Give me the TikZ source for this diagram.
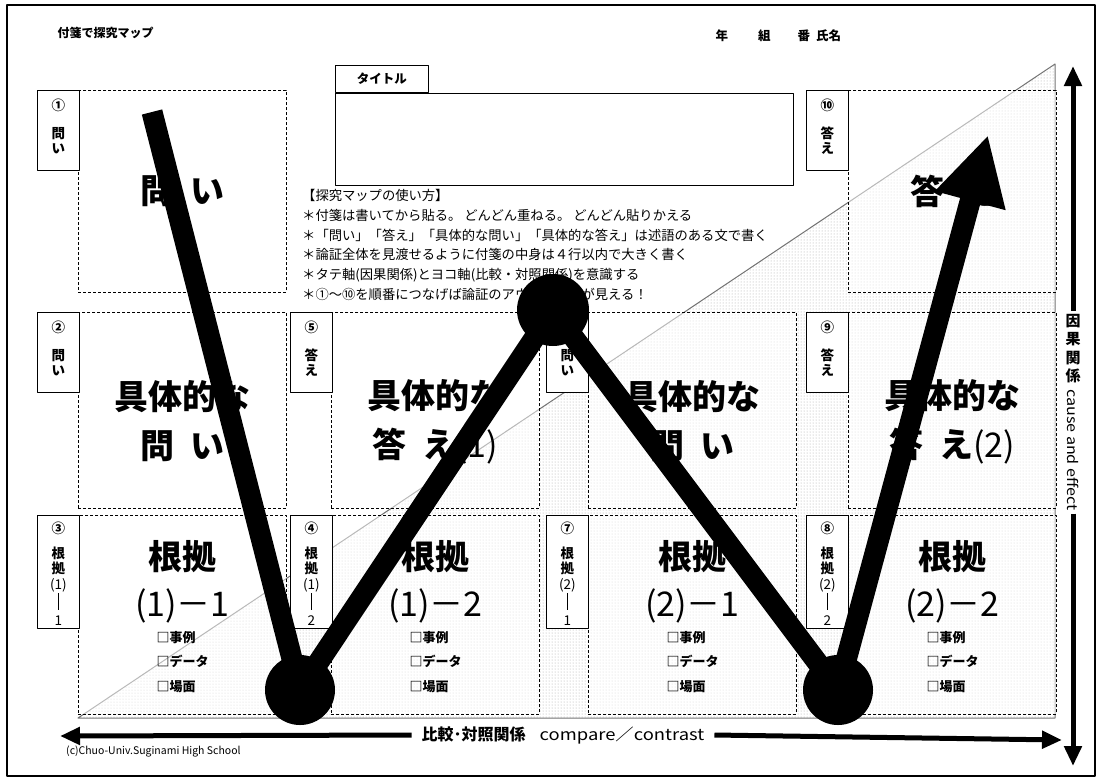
\documentclass[tikz,border=0pt]{standalone}
\usepackage{fontspec}
\setmainfont{Noto Sans CJK JP}
\usetikzlibrary{arrows.meta, patterns, calc, positioning}

\begin{document}
\begin{tikzpicture}[x=1pt, y=-1pt, line join=round,
  tag/.style={draw, line width=0.8pt, fill=white, minimum width=42pt, anchor=north west, inner sep=0pt},
  tagtext/.style={anchor=north, align=center, inner sep=0pt, font=\fontsize{13.5}{15.5}\selectfont\bfseries},
  card/.style={draw, dash pattern=on 3pt off 2pt, line width=0.8pt, fill=white, fill opacity=0.5, minimum width=208pt, anchor=north west, inner sep=0pt},
  big/.style={align=center, inner sep=0pt, font=\fontsize{34}{49}\selectfont\bfseries},
  thin/.style={inner sep=0pt, font=\fontsize{34}{34}\selectfont},
  bigb/.style={inner sep=0pt, font=\fontsize{34}{34}\selectfont\bfseries},
  check/.style={anchor=north west, align=left, inner sep=0pt, font=\fontsize{13}{24.5}\selectfont\bfseries},
  axis/.style={line width=5pt, -{Triangle[length=20pt, width=17pt]}},
  zig/.style={line width=21pt},
  dot/.style={circle, fill=black, inner sep=0pt}]

  \useasboundingbox (0,0) rectangle (1102,780);
  \draw[line width=2pt] (7,5) rectangle (1095,776);

  % Header
  \node[anchor=west, font=\fontsize{12}{12}\selectfont\bfseries] (head) at (54,33) {付箋で探究マップ};
  \node[anchor=west, font=\fontsize{12.5}{12.5}\selectfont\bfseries] (who) at (712,36) {年\hspace{30pt}組\hspace{27pt}番\hspace{6pt}氏名};

  % Shaded half
  \fill[pattern=dots, pattern color=black!35] (78,718) -- (1055,64) -- (1055,718) -- cycle;
  \draw[black!55, line width=1pt] (78,718) -- (1055,64) -- (1055,718) -- cycle;

  % Cards
  \foreach \n/\x/\y/\hh in {1/78/90/202, 10/848/90/202, 2/78/312/196, 5/331/312/196, 6/588/312/196, 9/848/312/196, 3/78/515/199, 4/331/515/199, 7/588/515/199, 8/848/515/199}
    \node[card, minimum height=\hh pt] (q\n) at (\x,\y) {};

  % Tags
  \foreach \n/\x/\y/\txt in {1/37/90/{①\\[12pt]問\\い}, 2/37/312/{②\\[12pt]問\\い}, 5/290/312/{⑤\\[12pt]答\\え}, 6/546/312/{⑥\\[12pt]問\\い}, 9/806/312/{⑨\\[12pt]答\\え}, 10/806/90/{⑩\\[12pt]答\\え}} {
    \node[tag, minimum height=80pt] (t\n) at (\x,\y) {};
    \node[tagtext] (tt\n) at ($(t\n.north)+(0,9)$) {\txt};
  }
  \foreach \n/\x/\cn/\pa/\sb in {3/37/③/1/1, 4/290/④/1/2, 7/546/⑦/2/1, 8/806/⑧/2/2} {
    \node[tag, minimum height=113pt] (t\n) at (\x,515) {};
    \node[tagtext] (tt\n) at ($(t\n.north)+(0,7)$) {\cn\\[9pt]根\\拠\\{\mdseries(\pa)}\\\rule{0.7pt}{17pt}\\{\mdseries\sb}};
  }

  % Card texts
  \node[big] (a1) at (q1.center) {問\hspace{0.45em}い};
  \node[big] (a10) at (q10.center) {答\hspace{0.45em}え};
  \foreach \n/\txt in {2/{問\hspace{0.45em}い}, 5/{答\hspace{0.45em}え{\mdseries(1)}}, 6/{問\hspace{0.45em}い}, 9/{答\hspace{0.45em}え{\mdseries(2)}}}
    \node[big] (a\n) at ($(q\n.center)+(0,11)$) {具体的な\\\txt};
  \foreach \n/\txt in {3/{(1)－1}, 4/{(1)－2}, 7/{(2)－1}, 8/{(2)－2}} {
    \node[bigb] (g\n) at ($(q\n.north)+(0,42)$) {根拠};
    \node[thin] (h\n) at ($(q\n.north)+(0,91)$) {\txt};
    \node[check] (k\n) at ($(q\n.north)+(-26,116)$) {□事例\\□データ\\□場面};
  }

  % Title
  \node[draw, line width=0.8pt, anchor=north west, minimum width=93pt, minimum height=27pt, inner sep=0pt, font=\fontsize{12.5}{12.5}\selectfont\bfseries] (tab) at (335,65) {タイトル};
  \node[draw, line width=0.8pt, anchor=north west, minimum width=458pt, minimum height=92pt, inner sep=0pt] (titlebox) at (tab.south west) {};

  % Usage notes
  \node[anchor=north west, align=left, inner sep=0pt, font=\fontsize{13.3}{19.8}\selectfont] (notes) at (302,189) {【探究マップの使い方】\\
    ＊付箋は書いてから貼る。 どんどん重ねる。 どんどん貼りかえる\\
    ＊「問い」「答え」「具体的な問い」「具体的な答え」は述語のある文で書く\\
    ＊論証全体を見渡せるように付箋の中身は４行以内で大きく書く\\
    ＊タテ軸(因果関係)とヨコ軸(比較・対照関係)を意識する\\
    ＊①～⑩を順番につなげば論証のアウトラインが見える！};

  % Axes
  \node[anchor=north, align=center, inner sep=0pt, outer sep=3pt, font=\fontsize{15}{18.5}\selectfont\bfseries] (inga) at (1073,311) {因\\果\\関\\係};
  \node[rotate=-90, anchor=west, inner sep=0pt, outer sep=3pt, font=\fontsize{14}{14}\selectfont] (cae) at (inga.south) {\scalebox{1.15}[1]{cause and effect}};
  \coordinate (vtop) at (1073,66);
  \coordinate (vbot) at (1073,766);
  \draw[axis] (inga.north) -- (vtop);
  \draw[axis] (cae.east) -- (vbot);

  \node[inner xsep=10pt, inner ysep=0pt, font=\fontsize{16}{16}\selectfont] (hikaku) at (563,735) {\textbf{比較･対照関係}\hspace{14pt}\scalebox{1.15}[1]{compare／contrast}};
  \coordinate (hleft) at (60,736);
  \coordinate (hright) at (1062,740);
  \draw[axis] (hikaku.west) -- (hleft);
  \draw[axis] (hikaku.east) -- (hright);

  \node[anchor=west, inner sep=0pt, font=\fontsize{10.5}{10.5}\selectfont] (copy) at (66,752) {(c)Chuo-Univ.Suginami High School};

  % Path through the cards
  \coordinate (w0) at (152,112);
  \node[dot, minimum size=70pt] (b1) at (300,690) {};
  \node[dot, minimum size=72pt] (m1) at (553,310) {};
  \node[dot, minimum size=70pt] (b2) at (838,690) {};
  \coordinate (w4) at (988,135);
  \draw[zig] (w0) -- (b1.center) -- (m1.center) -- (b2.center);
  \draw[zig, -{Triangle[length=68pt, width=68pt]}] (b2.center) -- (w4);
\end{tikzpicture}
\end{document}
